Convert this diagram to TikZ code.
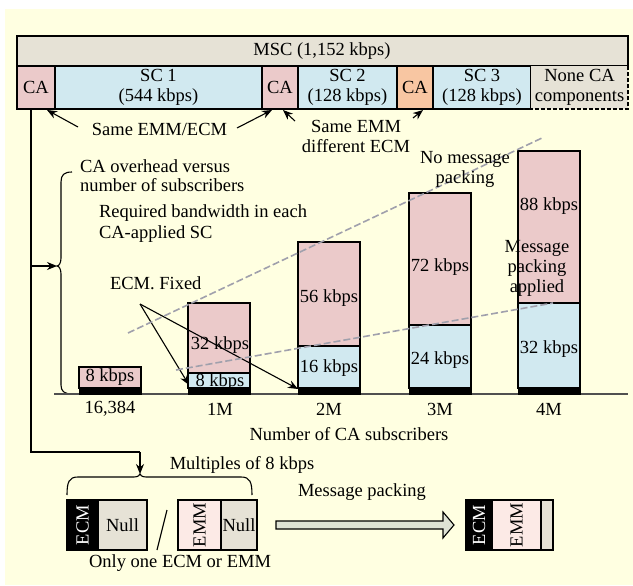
\documentclass[tikz,border=0pt]{standalone}
\usepackage{fontspec}
\setmainfont{Liberation Serif}
\usetikzlibrary{arrows.meta}
\definecolor{bgy}{RGB}{255,255,225}
\definecolor{msc}{RGB}{230,226,214}
\definecolor{capink}{RGB}{235,202,202}
\definecolor{scblue}{RGB}{209,233,240}
\definecolor{caor}{RGB}{248,198,162}
\definecolor{emmpink}{RGB}{252,234,230}
\definecolor{dgray}{RGB}{160,160,172}
\definecolor{axisgray}{RGB}{80,80,80}
\definecolor{arrowfill}{RGB}{222,226,212}
\begin{document}
\begin{tikzpicture}[x=1pt,y=-1pt,
  every node/.style={font=\fontsize{18.5}{20}\selectfont, inner sep=0pt, outer sep=0pt, align=center},
  cell/.style={draw=black, line width=1.4pt, anchor=north west},
  band/.style={fill=black, draw=black, line width=0.6pt, anchor=north west, minimum width=62pt, minimum height=6pt},
  arr/.style={-{Stealth[length=10pt,width=8pt]}, line width=1.1pt, black},
  guide/.style={draw=dgray, line width=1.6pt, dash pattern=on 7pt off 3pt},
  lbl/.style={anchor=center},
  leftlbl/.style={anchor=west}
]
\useasboundingbox (0,0) rectangle (633,586);
\fill[bgy] (5,9) rectangle (633,585);

% ---- top bar ----
\node[cell, fill=msc, minimum width=611pt, minimum height=30pt] (msc) at (17,36) {};
\node[lbl] (msct) at (322,51) {MSC (1,152 kbps)};
\node[cell, fill=capink, minimum width=38pt, minimum height=43pt] (ca1) at (17,66) {CA};
\node[cell, fill=scblue, minimum width=207pt, minimum height=43pt] (sc1) at (55,66) {SC 1\\(544 kbps)};
\node[cell, fill=capink, minimum width=36pt, minimum height=43pt] (ca2) at (262,66) {CA};
\node[cell, fill=scblue, minimum width=99pt, minimum height=43pt] (sc2) at (298,66) {SC 2\\(128 kbps)};
\node[cell, fill=caor, minimum width=36pt, minimum height=43pt] (ca3) at (397,66) {CA};
\node[cell, fill=scblue, minimum width=98pt, minimum height=43pt] (sc3) at (433,66) {SC 3\\(128 kbps)};
\node[anchor=north west, fill=msc, minimum width=97pt, minimum height=43pt] (none) at (531,66) {None CA\\components};
\draw[line width=1.4pt, dash pattern=on 4pt off 2pt] (none.north east) -- (none.south east) -- (none.south west);

% ---- labels for CA arrows ----
\node[lbl] (same1) at (159.5,129) {Same EMM/ECM};
\node[lbl] (same2) at (356,136) {Same EMM\\different ECM};
\coordinate (a1s) at (78,127);
\coordinate (a1e) at (47,110);
\coordinate (a2s) at (237,128);
\coordinate (a2e) at (272,110);
\coordinate (a3s) at (295,121);
\coordinate (a3e) at (283,110);
\coordinate (a4s) at (413,118);
\coordinate (a4e) at (423,110);
\draw[arr] (a1s) -- (a1e);
\draw[arr] (a2s) -- (a2e);
\draw[arr] (a3s) -- (a3e);
\draw[arr] (a4s) -- (a4e);

% ---- left tree ----
\coordinate (vtop) at (31,109);
\coordinate (vmid) at (31,266);
\coordinate (vbot) at (31,452);
\coordinate (hbot) at (140,452);
\coordinate (btip) at (57,266);
\coordinate (btip2) at (140,474);
\draw[line width=1.1pt] (vtop) -- (vbot) -- (hbot);
\draw[arr] (vmid) -- (btip);
\draw[arr] (hbot) -- (btip2);

% left brace
\draw[line width=1.1pt] (72,172) .. controls (64,172) and (61,175) .. (61,182)
  -- (61,258) .. controls (61,263) and (59,266) .. (btip)
  .. controls (59,266) and (61,269) .. (61,274)
  -- (61,385) .. controls (61,391) and (64,394) .. (72,394);

\node[leftlbl] (ovh) at (80,178) {\begin{tabular}{@{}l@{}}CA overhead versus\\[-1.5pt]number of subscribers\end{tabular}};
\node[leftlbl] (req) at (99,224) {\begin{tabular}{@{}l@{}}Required bandwidth in each\\[0.5pt]CA-applied SC\end{tabular}};
\node[leftlbl] (ecm) at (110,283) {ECM. Fixed};

% ---- bars ----
\node[cell, fill=capink, minimum width=62pt, minimum height=21pt] (b0p) at (79,367) {};
\node[cell, fill=capink, minimum width=62pt, minimum height=70pt] (b1p) at (188,303) {};
\node[cell, fill=scblue, minimum width=62pt, minimum height=15pt] (b1b) at (188,373) {};
\node[cell, fill=capink, minimum width=62pt, minimum height=104pt] (b2p) at (298,242) {};
\node[cell, fill=scblue, minimum width=62pt, minimum height=42pt] (b2b) at (298,346) {};
\node[cell, fill=capink, minimum width=62pt, minimum height=132pt] (b3p) at (409,193) {};
\node[cell, fill=scblue, minimum width=62pt, minimum height=63pt] (b3b) at (409,325) {};
\node[cell, fill=capink, minimum width=62pt, minimum height=152pt] (b4p) at (518,151) {};
\node[cell, fill=scblue, minimum width=62pt, minimum height=85pt] (b4b) at (518,303) {};

\node[lbl] (t0) at (110,377) {8 kbps};
\node[lbl] (t1a) at (220,345) {32 kbps};
\node[lbl] (t1b) at (220,382) {8 kbps};
\node[lbl] (t2a) at (329,298) {56 kbps};
\node[lbl] (t2b) at (329,368) {16 kbps};
\node[lbl] (t3a) at (440,267) {72 kbps};
\node[lbl] (t3b) at (440,360) {24 kbps};
\node[lbl] (t4a) at (549,206) {88 kbps};
\node[lbl] (t4b) at (549,349) {32 kbps};

% axis
\coordinate (ax0) at (54,394);
\coordinate (ax1) at (628,394);
\draw[axisgray, line width=1.2pt] (ax0) -- (ax1);
\node[band] (b0k) at (79,388) {};
\node[band] (b1k) at (188,388) {};
\node[band] (b2k) at (298,388) {};
\node[band] (b3k) at (409,388) {};
\node[band] (b4k) at (518,388) {};
\node[lbl] (x0) at (110,409) {16,384};
\node[lbl] (x1) at (220,409) {1M};
\node[lbl] (x2) at (329,409) {2M};
\node[lbl] (x3) at (440,409) {3M};
\node[lbl] (x4) at (549,409) {4M};
\node[lbl] (xt) at (349,434) {Number of CA subscribers};

% ECM arrows
\coordinate (es) at (140,304);
\coordinate (ee1) at (189,385);
\coordinate (ee2) at (298,389);
\draw[arr] (es) -- (ee1);
\draw[arr] (es) -- (ee2);

% guide lines
\coordinate (g1s) at (128,333);
\coordinate (g1e) at (542,138);
\coordinate (g2s) at (176,370);
\coordinate (g2e) at (553,303);
\draw[guide] (g1s) -- (g1e);
\draw[guide] (g2s) -- (g2e);
\node[lbl] (nomp) at (465,169) {No message\\packing};
\node[lbl] (mpa) at (537,268) {Message\\packing\\applied};

% ---- bottom section ----
\node[lbl] (mult) at (242,465) {Multiples of 8 kbps};
\draw[line width=1.1pt] (67,495) .. controls (67,482) and (69,477) .. (78,477)
  -- (134,477) .. controls (138,477) and (140,475) .. (btip2)
  .. controls (140,475) and (142,477) .. (146,477)
  -- (241,477) .. controls (250,477) and (252,482) .. (252,495);

\node[cell, fill=black, minimum width=31pt, minimum height=50pt] (ecm1) at (67,500) {};
\node[rotate=90, text=white] (ecm1t) at (ecm1.center) {ECM};
\node[cell, fill=msc, minimum width=49pt, minimum height=50pt] (null1) at (98,500) {Null};
\coordinate (sl1) at (167,510);
\coordinate (sl2) at (157,550);
\draw[line width=1.1pt] (sl1) -- (sl2);
\node[cell, fill=emmpink, minimum width=43pt, minimum height=50pt] (emm1) at (178,500) {};
\node[rotate=90] (emm1t) at (emm1.center) {EMM};
\node[cell, fill=msc, minimum width=36pt, minimum height=50pt] (null2) at (221,500) {Null};
\node[lbl] (only) at (180,563) {Only one ECM or EMM};

\node[lbl] (mpk) at (362,492) {Message packing};
\draw[line width=1.1pt, fill=arrowfill] (276,521) -- (443,521) -- (443,512) -- (454,525) -- (443,538) -- (443,529) -- (276,529) -- cycle;

\node[cell, fill=black, minimum width=26pt, minimum height=50pt] (ecm2) at (466,500) {};
\node[rotate=90, text=white] (ecm2t) at (ecm2.center) {ECM};
\node[cell, fill=emmpink, minimum width=49pt, minimum height=50pt] (emm2) at (492,500) {};
\node[rotate=90] (emm2t) at (emm2.center) {EMM};
\node[cell, fill=msc, minimum width=12pt, minimum height=50pt] (pad2) at (541,500) {};
\end{tikzpicture}
\end{document}
